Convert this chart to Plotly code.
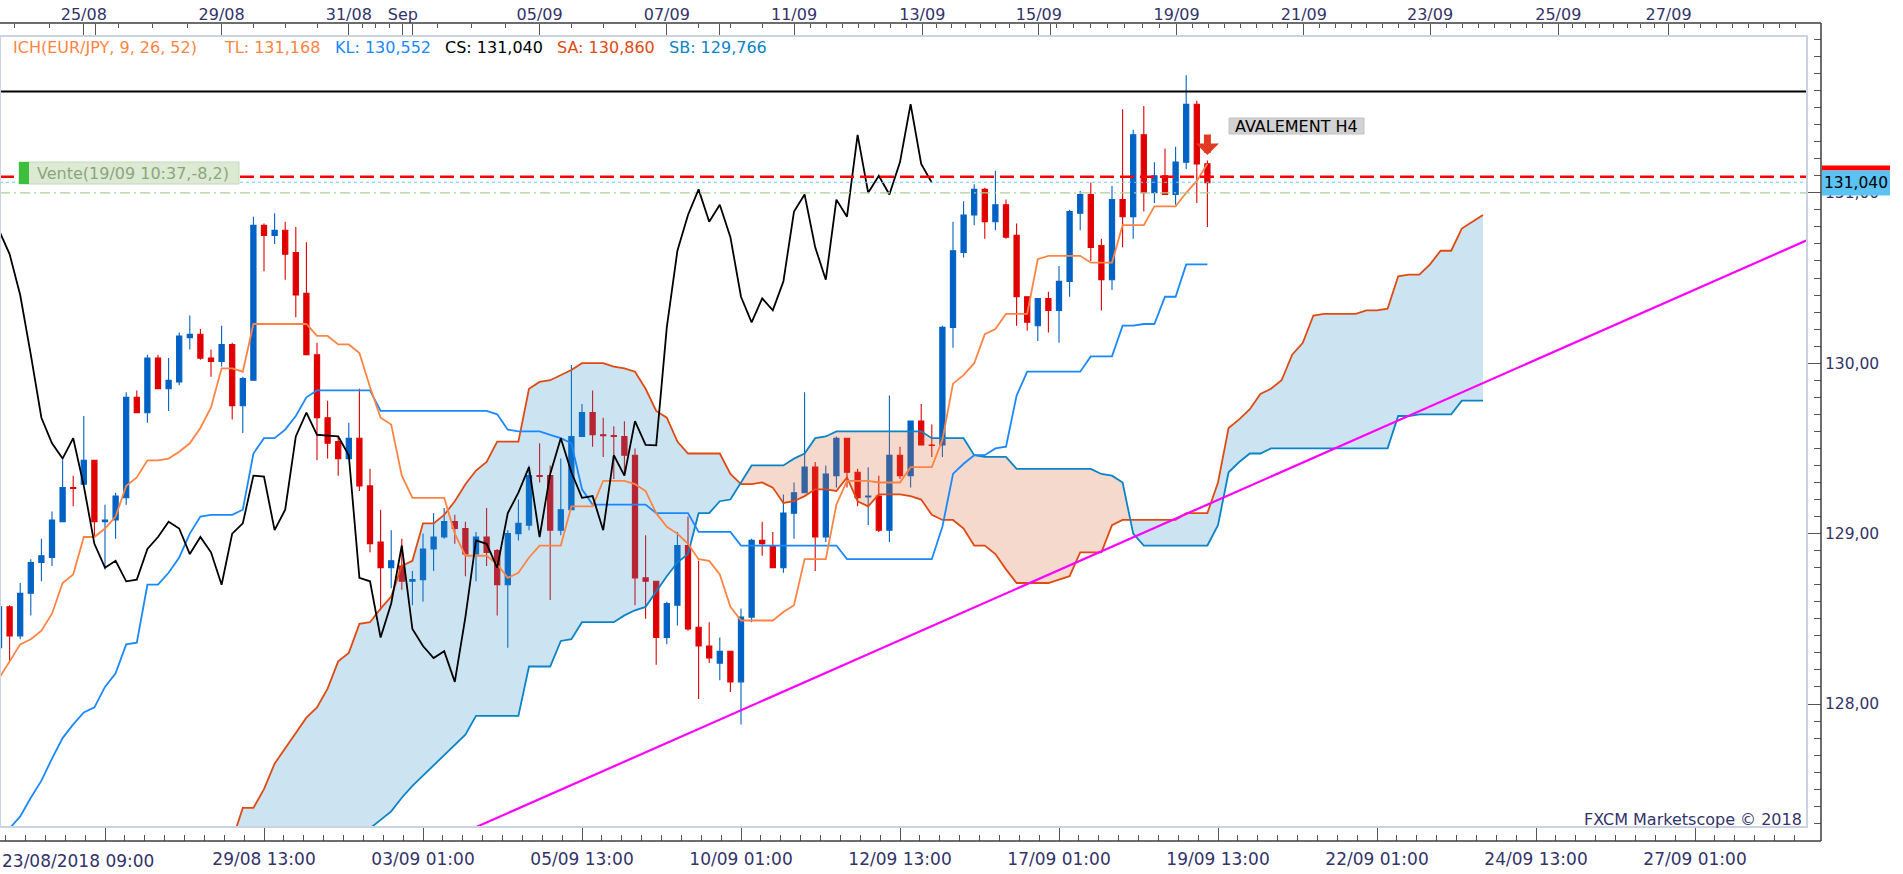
import plotly.graph_objects as go

# ------------------------------------------------------------------ data
BAR_INDEX = list(range(-10, 105))          # H4 bars, 0 = 23/08/2018 09:00

OPEN = [128.33, 128.57, 128.40, 128.65, 128.83, 128.86, 129.07, 129.27, 129.29, 129.43,
        129.07, 129.08, 129.21, 129.80, 129.71, 130.03, 129.85, 129.89, 130.15, 130.17,
        130.03, 130.01, 130.11, 129.75, 129.90, 130.81, 130.75, 130.78, 130.65, 130.41,
        130.05, 129.68, 129.54, 129.44, 129.56, 129.28, 128.95, 128.80, 128.81, 128.72,
        128.73, 128.91, 128.98, 129.07, 129.03, 128.88, 128.98, 128.90, 128.70, 129.00,
        129.05, 129.34, 129.34, 129.02, 129.14, 129.57, 129.71, 129.58, 129.575, 129.57,
        129.46, 128.74, 128.72, 128.39, 128.58, 128.93, 128.45, 128.34, 128.24, 128.31,
        128.13, 128.51, 128.96, 128.93, 128.80, 129.12, 129.24, 129.39, 128.98, 129.34,
        129.56, 129.36, 129.215, 129.22, 129.02, 129.46, 129.34, 129.66, 129.52, 129.52,
        130.21, 130.65, 130.87, 131.02, 130.83, 130.93, 130.75, 130.39, 130.22, 130.38,
        130.31, 130.48, 130.88, 130.99, 130.69, 130.49, 130.96, 130.86, 131.34, 131.00,
        131.10, 130.99, 131.18, 131.52, 131.17]
HIGH = [128.58, 128.58, 128.71, 128.85, 128.97, 129.13, 129.43, 129.34, 129.69, 129.43,
        129.17, 129.24, 129.83, 129.84, 130.05, 130.05, 130.03, 130.18, 130.28, 130.20,
        130.08, 130.22, 130.12, 129.92, 130.86, 130.82, 130.88, 130.83, 130.80, 130.71,
        130.12, 129.78, 129.57, 129.65, 129.85, 129.38, 129.14, 129.02, 128.97, 128.78,
        129.00, 129.12, 129.15, 129.11, 129.07, 129.01, 129.15, 128.91, 129.02, 129.20,
        129.40, 129.53, 129.40, 129.44, 129.99, 129.76, 129.84, 129.68, 129.63, 129.66,
        129.50, 128.99, 128.72, 128.60, 129.01, 129.10, 128.84, 128.48, 128.39, 128.31,
        128.56, 128.97, 129.07, 129.01, 129.23, 129.30, 129.83, 129.42, 129.40, 129.57,
        129.56, 129.38, 129.39, 129.34, 129.81, 129.51, 129.66, 129.76, 129.64, 130.22,
        130.83, 130.95, 131.05, 131.03, 131.13, 130.96, 130.82, 130.39, 130.38, 130.42,
        130.57, 130.90, 131.01, 131.06, 130.73, 131.04, 131.49, 131.37, 131.51, 131.18,
        131.26, 131.27, 131.69, 131.54, 131.19]
LOW = [128.32, 128.25, 128.38, 128.52, 128.72, 128.81, 129.07, 129.16, 129.29, 128.98,
       128.79, 128.97, 129.17, 129.71, 129.65, 129.85, 129.72, 129.87, 130.08, 130.02,
       129.92, 129.98, 129.67, 129.59, 129.90, 130.54, 130.70, 130.49, 130.27, 130.05,
       129.43, 129.44, 129.34, 129.44, 129.25, 128.89, 128.55, 128.68, 128.67, 128.58,
       128.60, 128.78, 128.97, 128.94, 128.75, 128.72, 128.81, 128.52, 128.33, 128.96,
       129.02, 129.30, 128.61, 128.99, 129.14, 129.57, 129.51, 129.45, 129.32, 129.35,
       128.58, 128.50, 128.23, 128.35, 128.46, 128.43, 128.03, 128.24, 128.14, 128.07,
       127.88, 128.48, 128.87, 128.80, 128.77, 128.97, 129.24, 128.78, 128.95, 129.27,
       129.27, 129.16, 129.05, 129.01, 128.95, 129.32, 129.27, 129.52, 129.45, 129.45,
       130.09, 130.62, 130.81, 130.73, 130.78, 130.73, 130.22, 130.19, 130.13, 130.18,
       130.12, 130.39, 130.78, 130.60, 130.31, 130.43, 130.68, 130.73, 130.89, 130.94,
       130.99, 130.93, 131.14, 130.94, 130.80]
CLOSE = [128.57, 128.40, 128.65, 128.83, 128.87, 129.08, 129.27, 129.265, 129.43, 129.07,
         129.08, 129.22, 129.80, 129.71, 130.03, 129.85, 129.90, 130.16, 130.17, 130.03,
         130.01, 130.11, 129.75, 129.91, 130.81, 130.75, 130.78, 130.64, 130.40, 130.05,
         129.68, 129.53, 129.44, 129.56, 129.28, 128.94, 128.80, 128.84, 128.72, 128.73,
         128.91, 128.98, 129.07, 129.03, 128.88, 128.98, 128.89, 128.70, 129.00, 129.06,
         129.34, 129.335, 129.02, 129.14, 129.57, 129.71, 129.58, 129.575, 129.57, 129.46,
         128.74, 128.72, 128.39, 128.59, 128.93, 128.44, 128.34, 128.27, 128.31, 128.13,
         128.51, 128.96, 128.94, 128.80, 129.12, 129.24, 129.39, 128.98, 129.35, 129.56,
         129.36, 129.21, 129.22, 129.02, 129.46, 129.34, 129.66, 129.52, 129.518, 130.21,
         130.66, 130.87, 131.02, 130.83, 130.93, 130.74, 130.39, 130.24, 130.38, 130.31,
         130.48, 130.89, 130.99, 130.68, 130.49, 130.96, 130.86, 131.34, 131.00, 131.10,
         130.99, 131.18, 131.52, 131.17, 131.06]

TENKAN = [128.15, 128.25, 128.35, 128.38, 128.43, 128.53, 128.71, 128.76, 128.98, 128.98,
          129.03, 129.10, 129.28, 129.33, 129.43, 129.43, 129.44, 129.48, 129.53, 129.62,
          129.74, 129.97, 129.97, 129.95, 130.23, 130.23, 130.23, 130.23, 130.23, 130.23,
          130.16, 130.16, 130.11, 130.11, 130.06, 129.86, 129.68, 129.64, 129.34, 129.21,
          129.21, 129.21, 129.21, 129.00, 128.87, 128.87, 128.87, 128.82, 128.74, 128.77,
          128.86, 128.93, 128.93, 128.93, 129.16, 129.16, 129.16, 129.31, 129.31, 129.31,
          129.29, 129.25, 129.12, 129.04, 129.00, 128.94, 128.85, 128.84, 128.76, 128.57,
          128.49, 128.49, 128.49, 128.49, 128.54, 128.58, 128.85, 128.85, 128.85, 129.17,
          129.31, 129.31, 129.31, 129.30, 129.30, 129.30, 129.39, 129.39, 129.39, 129.55,
          129.88, 129.93, 130.00, 130.17, 130.20, 130.29, 130.29, 130.29, 130.61, 130.63,
          130.63, 130.63, 130.63, 130.59, 130.59, 130.59, 130.81, 130.81, 130.81, 130.92,
          130.92, 130.92, 131.00, 131.07, 131.17]
KIJUN = [127.20, 127.27, 127.34, 127.45, 127.55, 127.68, 127.80, 127.88, 127.95, 127.98,
         128.10, 128.18, 128.35, 128.36, 128.70, 128.70, 128.77, 128.86, 129.00, 129.10,
         129.11, 129.11, 129.11, 129.14, 129.47, 129.56, 129.56, 129.61, 129.69, 129.80,
         129.84, 129.84, 129.84, 129.84, 129.84, 129.84, 129.72, 129.72, 129.72, 129.72,
         129.72, 129.72, 129.72, 129.72, 129.72, 129.72, 129.72, 129.70, 129.61, 129.60,
         129.60, 129.60, 129.58, 129.56, 129.53, 129.26, 129.17, 129.17, 129.17, 129.17,
         129.17, 129.17, 129.12, 129.12, 129.12, 129.12, 129.01, 129.01, 129.01, 129.01,
         128.93, 128.93, 128.93, 128.93, 128.93, 128.93, 128.93, 128.93, 128.93, 128.93,
         128.85, 128.85, 128.85, 128.85, 128.85, 128.85, 128.85, 128.85, 128.85, 129.04,
         129.35, 129.41, 129.46, 129.46, 129.50, 129.51, 129.81, 129.95, 129.95, 129.95,
         129.95, 129.95, 129.95, 130.04, 130.04, 130.04, 130.22, 130.22, 130.23, 130.23,
         130.39, 130.39, 130.58, 130.58, 130.58]

SENKOU_INDEX = list(range(12, 131))
SENKOU_A = [127.20, 127.39, 127.39, 127.50, 127.65, 127.74, 127.83, 127.92, 127.98, 128.09,
            128.25, 128.30, 128.47, 128.48, 128.56, 128.63, 128.81, 128.84, 129.06, 129.06,
            129.11, 129.19, 129.29, 129.37, 129.42, 129.54, 129.54, 129.54, 129.85, 129.89,
            129.90, 129.93, 129.96, 130.00, 130.00, 130.00, 129.98, 129.97, 129.95, 129.85,
            129.72, 129.68, 129.54, 129.47, 129.47, 129.47, 129.47, 129.35, 129.29, 129.29,
            129.30, 129.27, 129.18, 129.19, 129.22, 129.26, 129.26, 129.25, 129.33, 129.19,
            129.16, 129.23, 129.23, 129.23, 129.22, 129.20, 129.11, 129.08, 129.08, 129.03,
            128.93, 128.93, 128.88, 128.79, 128.71, 128.71, 128.71, 128.71, 128.73, 128.75,
            128.89, 128.89, 128.89, 129.05, 129.08, 129.08, 129.08, 129.08, 129.08, 129.08,
            129.12, 129.12, 129.12, 129.30, 129.62, 129.67, 129.73, 129.82, 129.85, 129.90,
            130.05, 130.12, 130.28, 130.29, 130.29, 130.29, 130.29, 130.31, 130.31, 130.32,
            130.51, 130.52, 130.52, 130.58, 130.66, 130.66, 130.79, 130.83, 130.87]
SENKOU_B = [127.00, 127.00, 127.00, 127.00, 127.05, 127.05, 127.05, 127.10, 127.10, 127.10,
            127.15, 127.18, 127.22, 127.27, 127.32, 127.37, 127.45, 127.52, 127.58, 127.64,
            127.70, 127.76, 127.82, 127.93, 127.93, 127.93, 127.93, 127.93, 128.22, 128.22,
            128.22, 128.37, 128.38, 128.48, 128.48, 128.48, 128.48, 128.52, 128.55, 128.57,
            128.66, 128.75, 128.83, 128.88, 129.12, 129.12, 129.19, 129.20, 129.30, 129.40,
            129.40, 129.40, 129.40, 129.44, 129.47, 129.56, 129.57, 129.60, 129.60, 129.60,
            129.60, 129.60, 129.60, 129.60, 129.60, 129.60, 129.56, 129.56, 129.56, 129.56,
            129.46, 129.45, 129.45, 129.45, 129.38, 129.38, 129.38, 129.38, 129.38, 129.38,
            129.38, 129.38, 129.35, 129.34, 129.30, 129.00, 128.93, 128.93, 128.93, 128.93,
            128.93, 128.93, 128.93, 129.05, 129.36, 129.42, 129.47, 129.47, 129.50, 129.50,
            129.50, 129.50, 129.50, 129.50, 129.50, 129.50, 129.50, 129.50, 129.50, 129.50,
            129.69, 129.69, 129.70, 129.70, 129.70, 129.70, 129.78, 129.78, 129.78]
CHIKOU_SHIFT = 26

TREND_X = [34.0, 160.5]
TREND_Y = [127.25, 130.72]

LEVEL_HIGH = 131.594
LEVEL_SELL = 131.094
LEVEL_PRICE = 131.062
LEVEL_ENTRY = 131.000

SIGNAL_X = 104
SIGNAL_Y = 131.222          # tip of the sell arrow

BOTTOM_TICK_INDEX = [0, 15, 30, 45, 60, 75, 90, 105, 120, 135, 150]
BOTTOM_TICK_TEXT = ["23/08/2018 09:00", "29/08 13:00", "03/09 01:00", "05/09 13:00",
                    "10/09 01:00", "12/09 13:00", "17/09 01:00", "19/09 13:00",
                    "22/09 01:00", "24/09 13:00", "27/09 01:00"]
TOP_TICK_INDEX = [-2.0, 11.0, 23.0, 28.1, 41.0, 53.0, 65.0, 77.1, 88.1, 101.1,
                  113.1, 125.0, 137.1, 147.5]
TOP_TICK_TEXT = ["25/08", "29/08", "31/08", "Sep", "05/09", "07/09", "11/09", "13/09",
                 "15/09", "19/09", "21/09", "23/09", "25/09", "27/09"]
EVENT_INDEX = [-2.0, -0.94, 11.0, 23.0, 28.1, 29.05, 41.0, 53.0, 58.0, 65.0, 77.1,
               88.1, 89.2, 101.1, 113.1, 125.0, 137.1, 147.5, 161.6]
PRICE_TICKS = [128, 129, 130, 131]

HEADER_TEXT = ["ICH(EUR/JPY, 9, 26, 52)", "TL: 131,168", "KL: 130,552",
               "CS: 131,040", "SA: 130,860", "SB: 129,766"]
PRICE_LABEL = "131,040"

# ------------------------------------------------------------------ geometry (px)
W, H = 1903, 874
AXIS_RIGHT, INNER_RIGHT = 1821, 1807
TOP_AXIS, INNER_TOP, INNER_BOTTOM, BOTTOM_AXIS = 23, 36, 827, 841
BAR_PX, BAR0_PX = 10.6, 105
UNIT_PX, P131_PX = 170.4, 192.8
PAPER_W, PAPER_H = AXIS_RIGHT, BOTTOM_AXIS - TOP_AXIS


def fx(px):
    return px / PAPER_W


def fy(py):
    return (BOTTOM_AXIS - py) / PAPER_H


X_RANGE = [(0 - BAR0_PX) / BAR_PX, (INNER_RIGHT - BAR0_PX) / BAR_PX]
Y_RANGE = [131 - (INNER_BOTTOM - P131_PX) / UNIT_PX, 131 + (P131_PX - INNER_TOP) / UNIT_PX]
TRI_Y = 131 + (P131_PX - 27.5) / UNIT_PX

FONT = "DejaVu Sans"
AXIS_TXT = "#33336A"

C_TENKAN = "#FF8444"
C_KIJUN = "#1A88FF"
C_SA = "#E04A12"
C_SB = "#0A84C6"
BULL_FILL = "rgba(51,147,203,0.25)"
BEAR_FILL = "rgba(219,103,55,0.25)"

fig = go.Figure()

# candles
fig.add_trace(go.Candlestick(
    x=BAR_INDEX, open=OPEN, high=HIGH, low=LOW, close=CLOSE,
    increasing=dict(line=dict(color="#0062C4", width=1.1), fillcolor="#0062C4"),
    decreasing=dict(line=dict(color="#E00000", width=1.1), fillcolor="#E00000"),
    whiskerwidth=0, showlegend=False, hoverinfo="skip"))


# cloud segments (split where span A crosses span B)
def cloud_segments(xs, a, b):
    segs = []
    sign = a[0] >= b[0]
    cx, ca, cb = [xs[0]], [a[0]], [b[0]]
    for k in range(1, len(xs)):
        s = a[k] >= b[k]
        if s != sign:
            d0 = a[k - 1] - b[k - 1]
            d1 = a[k] - b[k]
            t = d0 / (d0 - d1)
            xc = xs[k - 1] + t * (xs[k] - xs[k - 1])
            yc = a[k - 1] + t * (a[k] - a[k - 1])
            cx.append(xc); ca.append(yc); cb.append(yc)
            segs.append((sign, cx, ca, cb))
            cx, ca, cb = [xc], [yc], [yc]
            sign = s
        cx.append(xs[k]); ca.append(a[k]); cb.append(b[k])
    segs.append((sign, cx, ca, cb))
    return segs


for bull, sx, sa, sb in cloud_segments(SENKOU_INDEX, SENKOU_A, SENKOU_B):
    fig.add_trace(go.Scatter(
        x=sx + sx[::-1], y=sa + sb[::-1], fill="toself", mode="lines",
        line=dict(width=0), fillcolor=BULL_FILL if bull else BEAR_FILL,
        showlegend=False, hoverinfo="skip"))

line_style = dict(mode="lines", showlegend=False, hoverinfo="skip")
fig.add_trace(go.Scatter(x=SENKOU_INDEX, y=SENKOU_A, line=dict(color=C_SA, width=1.8), **line_style))
fig.add_trace(go.Scatter(x=SENKOU_INDEX, y=SENKOU_B, line=dict(color=C_SB, width=1.8), **line_style))
fig.add_trace(go.Scatter(x=BAR_INDEX, y=KIJUN, line=dict(color=C_KIJUN, width=1.8), **line_style))
fig.add_trace(go.Scatter(x=BAR_INDEX, y=TENKAN, line=dict(color=C_TENKAN, width=1.8), **line_style))
fig.add_trace(go.Scatter(x=[i - CHIKOU_SHIFT for i in BAR_INDEX], y=CLOSE,
                         line=dict(color="#000000", width=1.8), **line_style))
fig.add_trace(go.Scatter(x=TREND_X, y=TREND_Y, line=dict(color="#FF00FF", width=2.2), **line_style))

# event triangles on top axis
fig.add_trace(go.Scatter(x=EVENT_INDEX, y=[TRI_Y] * len(EVENT_INDEX), mode="markers",
                         marker=dict(symbol="triangle-down", size=9, color="#F5A623"),
                         cliponaxis=False, showlegend=False, hoverinfo="skip"))

# dummy trace for top axis
fig.add_trace(go.Scatter(x=[TOP_TICK_INDEX[0]], y=[None], xaxis="x2", yaxis="y",
                         mode="markers", showlegend=False, hoverinfo="skip"))

# top-axis tick positions
top_major = sorted(set(TOP_TICK_INDEX + EVENT_INDEX))
label_map = dict(zip(TOP_TICK_INDEX, TOP_TICK_TEXT))
top_text = [label_map.get(v, "") for v in top_major]
top_minor = []
for a, b in zip(TOP_TICK_INDEX[:-1], TOP_TICK_INDEX[1:]):
    n = 4 if a < 64 else 8
    top_minor += [a + (b - a) * k / n for k in range(1, n)]
step = (TOP_TICK_INDEX[1] - TOP_TICK_INDEX[0]) / 4
v = TOP_TICK_INDEX[0] - step
while v > X_RANGE[0]:
    top_minor.append(v)
    v -= step
v = TOP_TICK_INDEX[-1] + 1.5
while v < X_RANGE[1]:
    top_minor.append(v)
    v += 1.5

x_domain = [0, fx(INNER_RIGHT)]
y_domain = [fy(INNER_BOTTOM), fy(INNER_TOP)]

tick_common = dict(ticks="inside", tickcolor="#555555", tickwidth=1, showgrid=False,
                   zeroline=False, showline=False, fixedrange=True)

shapes = []
# horizontal levels
shapes.append(dict(type="line", xref="paper", yref="y", x0=0, x1=fx(INNER_RIGHT),
                   y0=LEVEL_HIGH, y1=LEVEL_HIGH, line=dict(color="#000000", width=2)))
shapes.append(dict(type="line", xref="paper", yref="y", x0=0, x1=fx(INNER_RIGHT),
                   y0=LEVEL_ENTRY, y1=LEVEL_ENTRY,
                   line=dict(color="#A9CF9A", width=1.2, dash="10px,4px,2px,4px")))
shapes.append(dict(type="line", xref="paper", yref="y", x0=0, x1=fx(INNER_RIGHT),
                   y0=LEVEL_PRICE, y1=LEVEL_PRICE,
                   line=dict(color="#6CCBF5", width=1, dash="dot")))
shapes.append(dict(type="line", xref="paper", yref="y", x0=0, x1=fx(INNER_RIGHT),
                   y0=LEVEL_SELL, y1=LEVEL_SELL,
                   line=dict(color="#FF0000", width=2.5, dash="14px,6px")))
# inner frame
shapes.append(dict(type="rect", xref="paper", yref="paper", x0=0, x1=fx(INNER_RIGHT),
                   y0=fy(INNER_BOTTOM), y1=fy(INNER_TOP),
                   line=dict(color="#CAD3E2", width=2)))
# axis lines
for x0, y0, x1, y1 in [(0, 1, 1, 1), (0, 0, 1, 0), (1, 0, 1, 1)]:
    shapes.append(dict(type="line", xref="paper", yref="paper", x0=x0, y0=y0, x1=x1, y1=y1,
                       line=dict(color="#3C3C3C", width=1.5)))
# current price label
shapes.append(dict(type="rect", xref="paper", yref="paper", x0=fx(1822), x1=fx(1890),
                   y0=fy(170.6), y1=fy(165.5), fillcolor="#FF0000", line=dict(width=0)))
shapes.append(dict(type="rect", xref="paper", yref="paper", x0=fx(1822), x1=fx(1890),
                   y0=fy(195.5), y1=fy(170.6), fillcolor="#5BC3F3", line=dict(width=0)))
# Vente tag
shapes.append(dict(type="rect", xref="paper", yref="paper", x0=fx(19), x1=fx(239),
                   y0=fy(184), y1=fy(162), fillcolor="#DCEAD3",
                   line=dict(color="#C5D9BA", width=1)))
shapes.append(dict(type="rect", xref="paper", yref="paper", x0=fx(19), x1=fx(29),
                   y0=fy(184), y1=fy(162), fillcolor="#3DBE3D", line=dict(width=0)))
# pattern tag
shapes.append(dict(type="rect", xref="paper", yref="paper", x0=fx(1229), x1=fx(1364),
                   y0=fy(134), y1=fy(118), fillcolor="#D2D2D2",
                   line=dict(color="#C2C2C2", width=1)))

annotations = []
header_x = [11, 222, 333, 443, 555, 667]
header_c = [C_TENKAN, C_TENKAN, C_KIJUN, "#000000", C_SA, C_SB]
for txt, px, col in zip(HEADER_TEXT, header_x, header_c):
    annotations.append(dict(text=txt, xref="paper", yref="paper", x=fx(px), y=fy(47),
                            xanchor="left", yanchor="middle", showarrow=False,
                            font=dict(family=FONT, size=16, color=col)))
annotations.append(dict(text="Vente(19/09 10:37,-8,2)", xref="paper", yref="paper",
                        x=fx(35), y=fy(173), xanchor="left", yanchor="middle",
                        showarrow=False, font=dict(family=FONT, size=16, color="#8CA57C")))
annotations.append(dict(text="AVALEMENT H4", xref="paper", yref="paper",
                        x=fx(1296.5), y=fy(126), xanchor="center", yanchor="middle",
                        showarrow=False, font=dict(family=FONT, size=16, color="#000000")))
annotations.append(dict(text="FXCM Marketscope © 2018", xref="paper", yref="paper",
                        x=fx(1804), y=fy(819), xanchor="right", yanchor="middle",
                        showarrow=False, font=dict(family=FONT, size=16, color=AXIS_TXT)))
annotations.append(dict(text=PRICE_LABEL, xref="paper", yref="paper",
                        x=fx(1856), y=fy(183), xanchor="center", yanchor="middle",
                        showarrow=False, font=dict(family=FONT, size=15.5, color="#000000")))
annotations.append(dict(text=BOTTOM_TICK_TEXT[0], xref="paper", yref="paper",
                        x=0, y=fy(861), xanchor="left", yanchor="middle",
                        showarrow=False, font=dict(family=FONT, size=17, color=AXIS_TXT)))
# sell signal arrow
annotations.append(dict(text="", x=SIGNAL_X, y=SIGNAL_Y, xref="x", yref="y",
                        showarrow=True, ax=0, ay=-22, arrowhead=1, arrowsize=0.55,
                        arrowwidth=7, arrowcolor="#E23A22", standoff=0))

fig.update_layout(
    width=W, height=H, autosize=False,
    margin=dict(l=0, r=W - AXIS_RIGHT, t=TOP_AXIS, b=H - BOTTOM_AXIS, pad=0),
    paper_bgcolor="white", plot_bgcolor="white",
    font=dict(family=FONT, color=AXIS_TXT),
    separators=", ",
    showlegend=False,
    xaxis=dict(domain=x_domain, range=X_RANGE, anchor="free", position=0,
               tickmode="array", tickvals=BOTTOM_TICK_INDEX,
               ticktext=[""] + BOTTOM_TICK_TEXT[1:], ticklen=14,
               tickfont=dict(family=FONT, size=17, color=AXIS_TXT),
               ticklabelstandoff=6,
               minor=dict(tickmode="linear", tick0=0, dtick=1.875, ticks="inside",
                          ticklen=6, tickcolor="#555555", tickwidth=1),
               rangeslider=dict(visible=False), **tick_common),
    xaxis2=dict(domain=x_domain, range=X_RANGE, anchor="free", position=1,
                overlaying="x", side="top",
                tickmode="array", tickvals=top_major, ticktext=top_text, ticklen=12,
                tickfont=dict(family=FONT, size=16, color=AXIS_TXT),
                minor=dict(tickmode="array", tickvals=top_minor, ticks="inside",
                           ticklen=4, tickcolor="#555555", tickwidth=1),
                **tick_common),
    yaxis=dict(domain=y_domain, range=Y_RANGE, anchor="free", position=1, side="right",
               tickmode="array", tickvals=PRICE_TICKS, tickformat=".2f", ticklen=14,
               tickfont=dict(family=FONT, size=15.5, color=AXIS_TXT),
               ticklabelstandoff=3,
               minor=dict(tickmode="linear", tick0=0, dtick=0.1, ticks="inside",
                          ticklen=7, tickcolor="#555555", tickwidth=1),
               **tick_common),
    shapes=shapes,
    annotations=annotations,
)

fig.write_html("out.html", config={"displayModeBar": False, "staticPlot": True},
               post_script="document.body.style.margin='0px';document.body.style.overflow='hidden';")
